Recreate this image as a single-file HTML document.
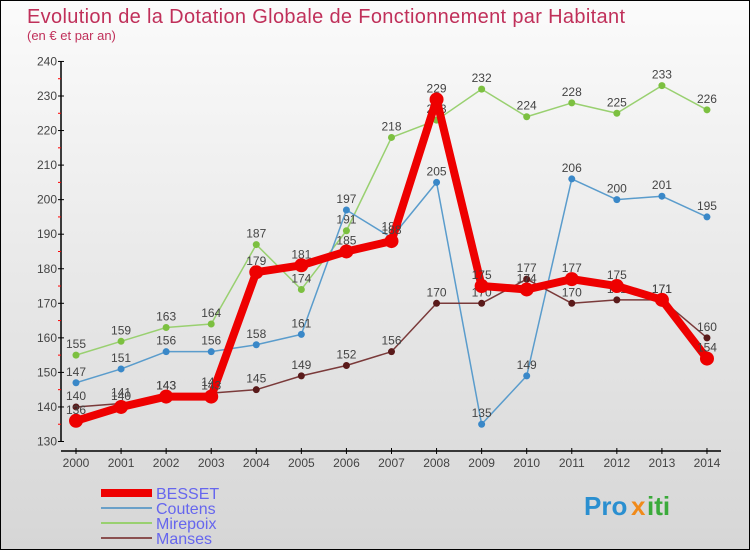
<!DOCTYPE html>
<html><head><meta charset="utf-8"><style>
body{margin:0}
#c{width:750px;height:550px;position:relative;overflow:hidden;box-sizing:border-box;border:1px solid #000;background:linear-gradient(#fbfbfb,#d6d6d6);font-family:"Liberation Sans",sans-serif}
</style></head><body>
<div id="c">
<svg id="s" width="750" height="550" style="position:absolute;left:0;top:0">
<text x="26" y="22" font-size="20" textLength="598" fill="#c0305a">Evolution de la Dotation Globale de Fonctionnement par Habitant</text>
<text x="26" y="39" font-size="13" fill="#c0305a">(en € et par an)</text>
<g id="ax"></g><g id="series"></g><g id="legend"></g>
<g font-size="26" font-weight="bold" font-family="Liberation Sans,sans-serif">
<text x="583" y="514" fill="#2a8fd0">Pro</text><text x="630" y="514" fill="#f08a1a">x</text><text x="646" y="514" fill="#3aaa3a">iti</text>
</g>
</svg>
</div>
<script>
const years=[2000,2001,2002,2003,2004,2005,2006,2007,2008,2009,2010,2011,2012,2013,2014];
const besset=[136,140,143,143,179,181,185,188,229,175,174,177,175,171,154];
const coutens=[147,151,156,156,158,161,197,189,205,135,149,206,200,201,195];
const mirepoix=[155,159,163,164,187,174,191,218,223,232,224,228,225,233,226];
const manses=[140,141,143,144,145,149,152,156,170,170,177,170,171,171,160];
const yTicks=[130,140,150,160,170,180,190,200,210,220,230,240];
const NS="http://www.w3.org/2000/svg";
const X=i=>75+i*45.07, Y=v=>440.5-(v-130)*3.455;
function mk(t,a,p){const e=document.createElementNS(NS,t);for(const k in a)e.setAttribute(k,a[k]);p.appendChild(e);return e;}
const ax=document.getElementById('ax');
let l=mk('line',{x1:60,y1:Y(240),x2:60,y2:Y(130),stroke:'#000','stroke-width':1.5},ax);


l=mk('line',{x1:60,y1:450,x2:720,y2:450,stroke:'#000','stroke-width':1.5},ax);


yTicks.forEach(v=>{mk('line',{x1:57,y1:Y(v),x2:63,y2:Y(v),stroke:'#000'},ax);
 if(v<240)mk('line',{x1:57,y1:Y(v+5),x2:60,y2:Y(v+5),stroke:'red'},ax);
 const t=mk('text',{x:56,y:Y(v)+4,'text-anchor':'end','font-size':12,fill:'#444'},ax);t.textContent=v;
 
 });
years.forEach((y,i)=>{mk('line',{x1:X(i),y1:447,x2:X(i),y2:453,stroke:'#000'},ax);
 const t=mk('text',{x:X(i),y:466,'text-anchor':'middle','font-size':12,fill:'#444'},ax);t.textContent=y;
 
 });
const ser=document.getElementById('series');
const defs=[['mirepoix',mirepoix,'#99d070','#7cc040',1.5,3.5],['coutens',coutens,'#5a9ccc','#3a88c8',1.5,3.5],['manses',manses,'#7a3a3a','#5a1a1a',1.5,3.5],['besset',besset,'#ee0000','#ee0000',8,7]];
defs.forEach(([n,d,c,pc,w,r])=>{
 const g=mk('g',{},ser);
 
 
 mk('polyline',{points:d.map((v,i)=>X(i)+','+Y(v)).join(' '),fill:'none',stroke:c,'stroke-width':w,'stroke-linejoin':'round'},g);
 d.forEach((v,i)=>{const p=mk('circle',{cx:X(i),cy:Y(v),r:r,fill:pc},g);
  
  
  const t=mk('text',{x:X(i),y:Y(v)-7,'text-anchor':'middle','font-size':12,fill:'#444'},g);t.textContent=v;
  
  });
});
const lg=document.getElementById('legend');
[['BESSET','#ee0000',8],['Coutens','#6aa0c8',2],['Mirepoix','#99d070',2],['Manses','#8a5050',2]].forEach(([n,c,w],i)=>{
 const y=492+i*15;
 const g=mk('g',{},lg);
 
 
 mk('line',{x1:100,y1:y,x2:151,y2:y,stroke:c,'stroke-width':w},g);
 const t=mk('text',{x:155,y:y+6,'font-size':16,fill:'#6666ee'},g);t.textContent=n;
});
</script>
</body></html>
